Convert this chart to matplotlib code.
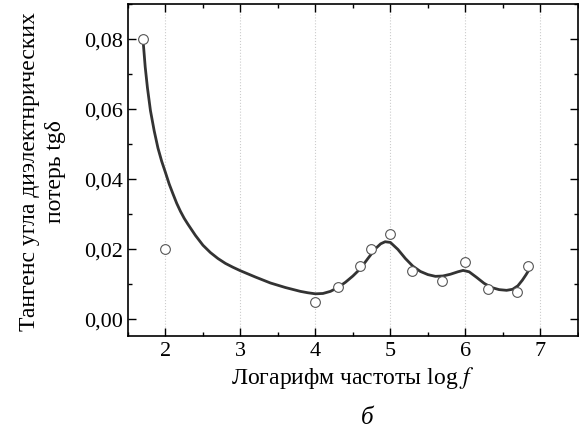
import numpy as np
import matplotlib.pyplot as plt
from matplotlib.ticker import MultipleLocator, FuncFormatter

# measured points (open circles)
log_f = [1.7, 2.0, 4.0, 4.3, 4.6, 4.74, 5.0, 5.29, 5.69, 6.0, 6.3, 6.69, 6.84]
tg_delta = [0.080, 0.020, 0.0049, 0.0090, 0.0150, 0.0200, 0.0241, 0.0136, 0.0109,
            0.0162, 0.0084, 0.0077, 0.0150]

# fitted curve
curve_x = [1.7, 1.73, 1.76, 1.8, 1.85, 1.9, 1.95, 2.0, 2.05, 2.1, 2.15, 2.2, 2.25,
           2.3, 2.4, 2.5, 2.6, 2.7, 2.8, 2.9, 3.0, 3.2, 3.4, 3.6, 3.8, 3.9, 4.0,
           4.1, 4.2, 4.3, 4.4, 4.5, 4.6, 4.7, 4.8, 4.87, 4.93, 5.0, 5.1, 5.2, 5.3,
           5.4, 5.5, 5.6, 5.7, 5.8, 5.9, 5.97, 6.05, 6.15, 6.25, 6.35, 6.45, 6.55,
           6.63, 6.7, 6.76, 6.81, 6.85]
curve_y = [0.080, 0.072, 0.066, 0.0595, 0.0537, 0.0488, 0.0450, 0.0418, 0.0385,
           0.0357, 0.0330, 0.0307, 0.0287, 0.0270, 0.0238, 0.0210, 0.0189, 0.0172,
           0.0158, 0.0147, 0.0137, 0.0119, 0.0102, 0.0089, 0.0078, 0.0074, 0.0071,
           0.0072, 0.0078, 0.0089, 0.0104, 0.0122, 0.0143, 0.0172, 0.0200, 0.0214,
           0.0220, 0.0218, 0.0198, 0.0172, 0.0150, 0.0135, 0.0126, 0.0121, 0.0122,
           0.0127, 0.0134, 0.0138, 0.0134, 0.0118, 0.0101, 0.0089, 0.0083, 0.0081,
           0.0084, 0.0094, 0.0110, 0.0126, 0.0140]

plt.rcParams['font.family'] = ['Liberation Serif', 'DejaVu Serif']
plt.rcParams['mathtext.fontset'] = 'stix'

fig = plt.figure(figsize=(5.79, 4.35), dpi=100)
ax = fig.add_axes([0.221, 0.225, 0.777, 0.7635])

ax.plot(curve_x, curve_y, color='#333333', lw=2, zorder=2,
        solid_joinstyle='round')
ax.plot(log_f, tg_delta, 'o', ms=7, mfc='white', mec='#555555', mew=0.8, zorder=3)

ax.set_xlim(1.5, 7.5)
ax.set_ylim(-0.005, 0.09)
ax.xaxis.set_major_locator(MultipleLocator(1))
ax.xaxis.set_minor_locator(MultipleLocator(0.5))
ax.yaxis.set_major_locator(MultipleLocator(0.02))
ax.yaxis.set_minor_locator(MultipleLocator(0.01))
ax.yaxis.set_major_formatter(FuncFormatter(lambda v, p: f"{v:.2f}".replace('.', ',')))
ax.grid(True, axis='x', which='major', color='#cccccc', ls=':', lw=0.8)

ax.tick_params(which='both', direction='in', top=True, right=True, labelsize=16)
ax.tick_params(which='major', length=6, width=1)
ax.tick_params(which='minor', length=3, width=1)
for s in ax.spines.values():
    s.set_linewidth(1.2)

ax.set_xlabel("Логарифм частоты log $\\it{f}$", fontsize=17, labelpad=3)
ax.set_ylabel("Тангенс угла диэлектнрических\nпотерь tgδ", fontsize=17,
              labelpad=13, linespacing=1.3)
fig.text(0.635, 0.038, "б", fontsize=18, style='italic', ha='center', va='center')

fig.savefig("out.png", dpi=100)
